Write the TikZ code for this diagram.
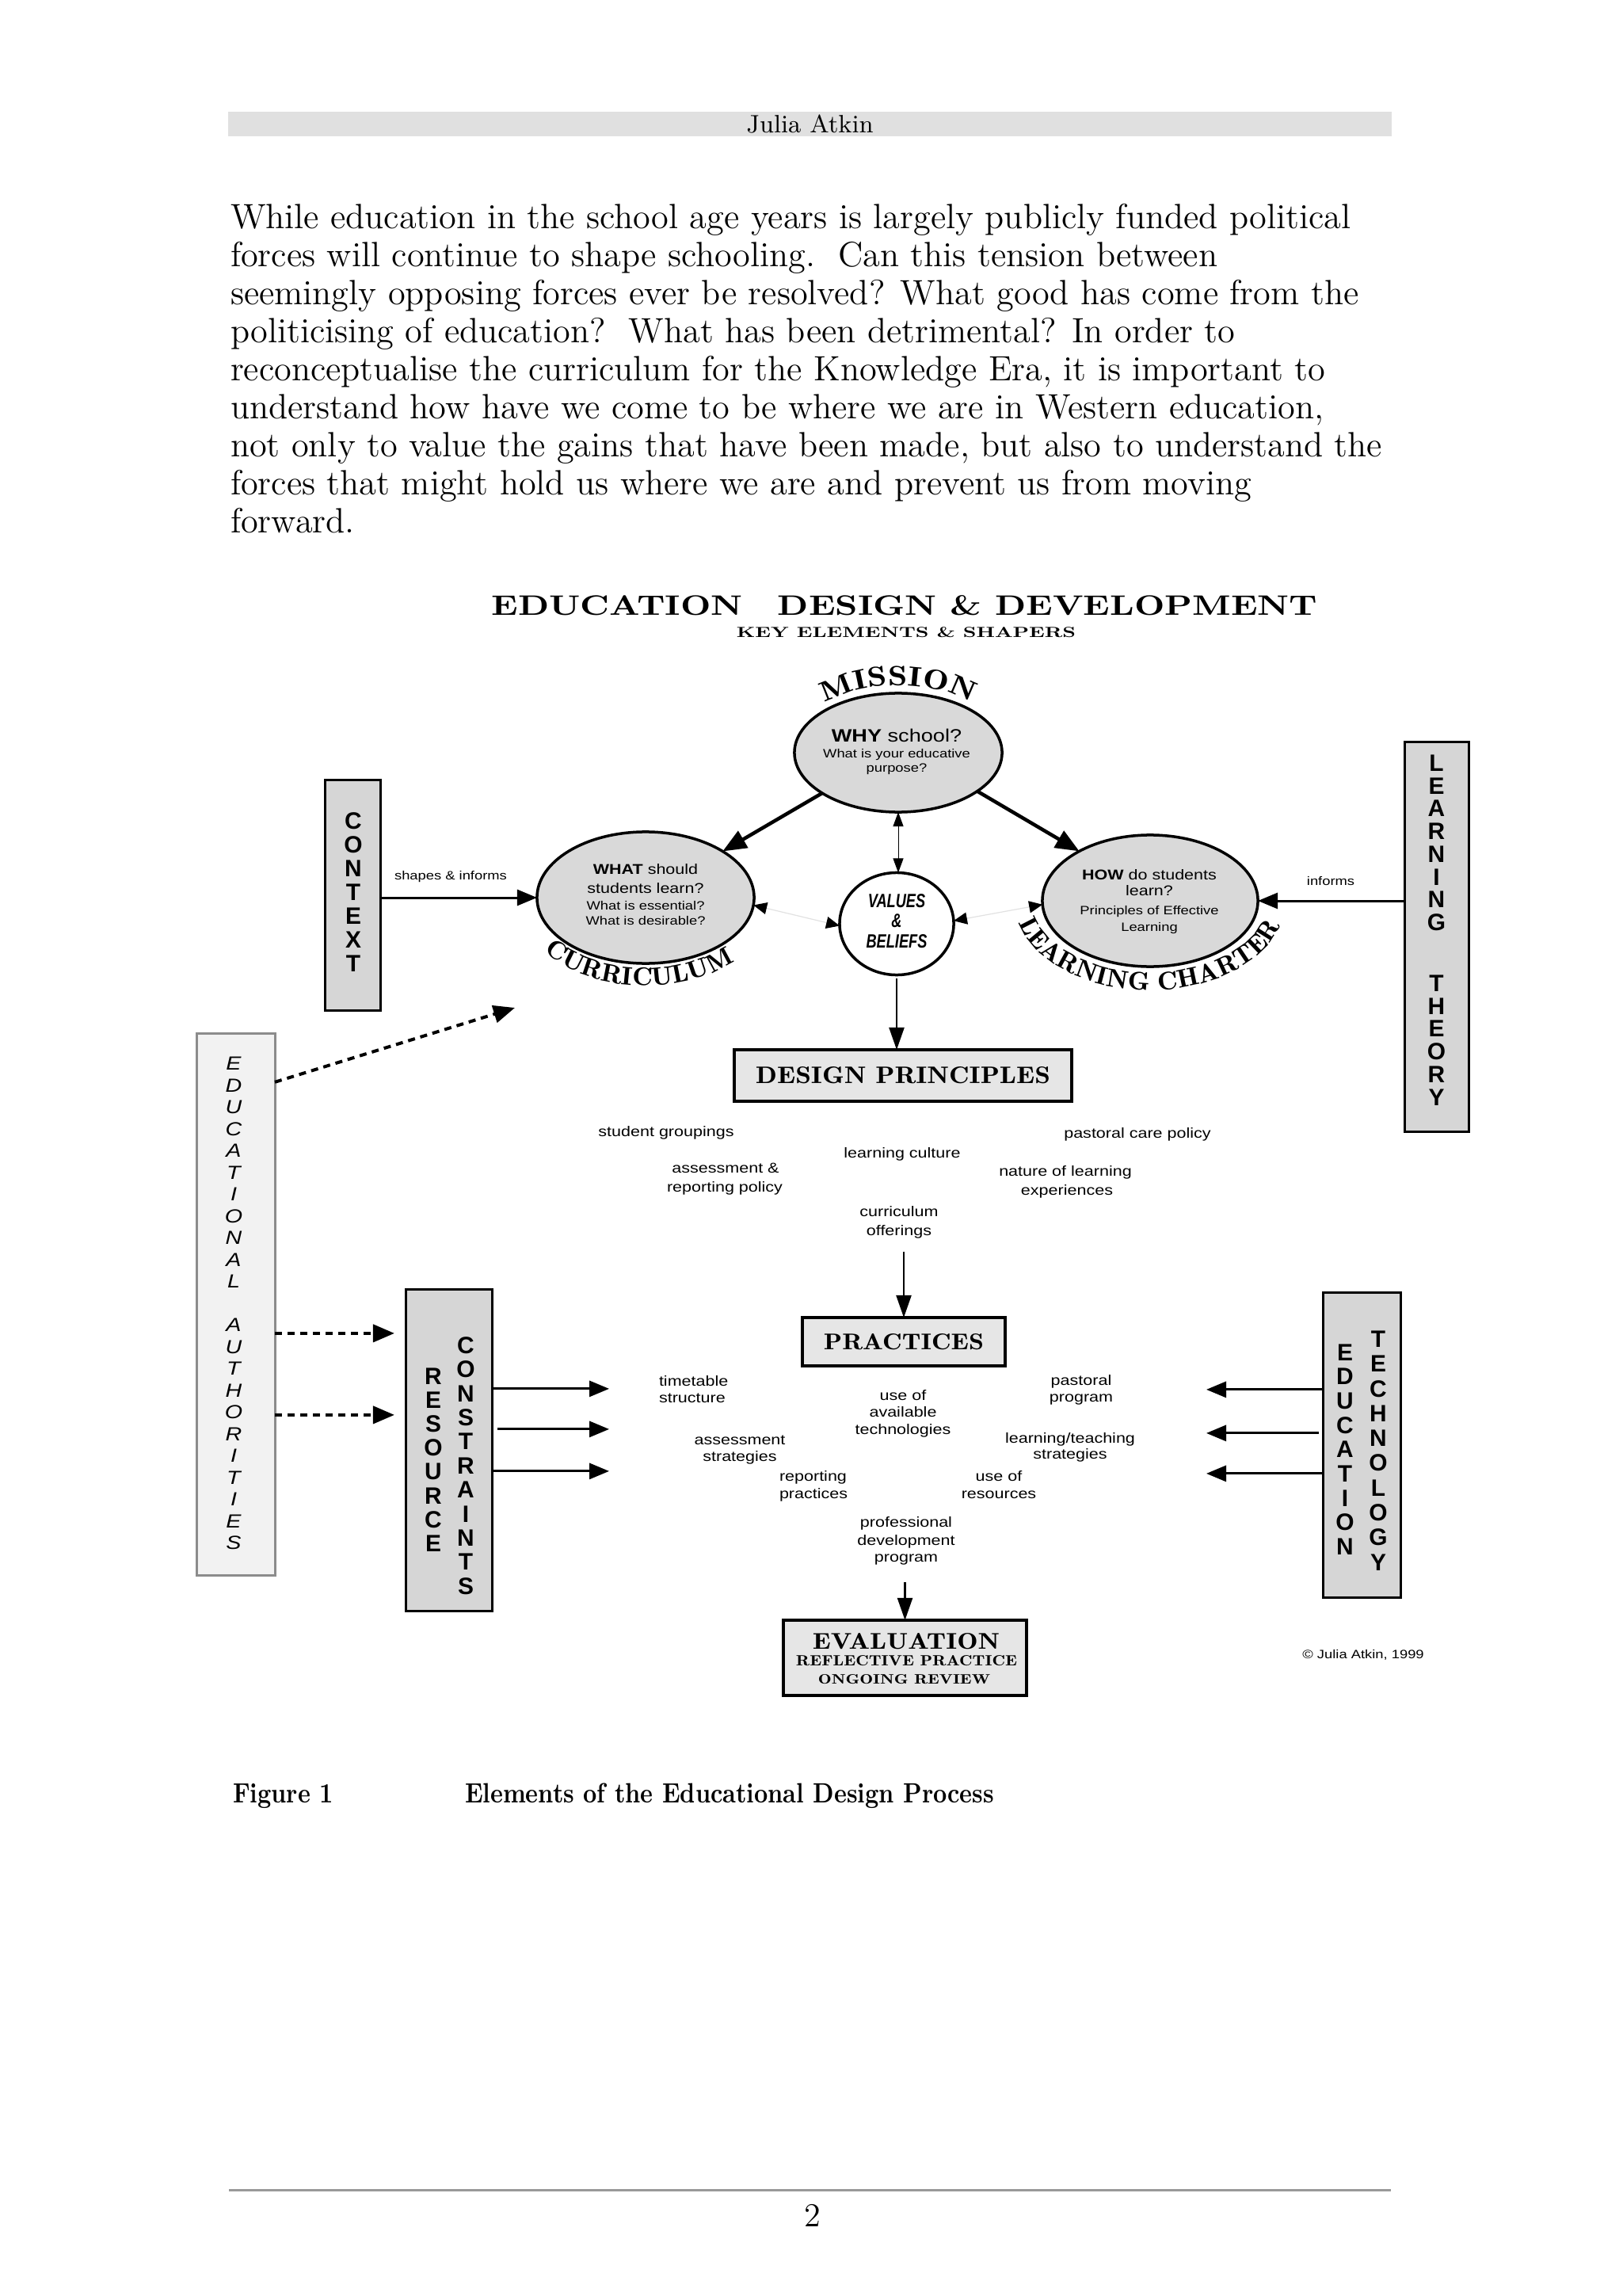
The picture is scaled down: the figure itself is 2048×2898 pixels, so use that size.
\documentclass[tikz,border=0pt]{standalone}
\usepackage{fontspec}
\usepackage{graphicx}
\usetikzlibrary{shapes.geometric,arrows.meta,calc,decorations.text}
\newfontfamily\dsans[FakeStretch=1.2]{Liberation Sans}
\newfontfamily\vsans{Liberation Sans}
\newfontfamily\valfont[FakeStretch=0.75]{Liberation Sans}
\newfontfamily\arcA[FakeStretch=1.25]{lmromandemi10-regular.otf}
\newfontfamily\arcB[FakeStretch=1.1]{lmromandemi10-regular.otf}
\newfontfamily\lmdemi{lmromandemi10-regular.otf}
\newfontfamily\capfont[FakeStretch=0.855]{lmroman10-bold.otf}
\newcommand\mArcA{\arcA\fontsize{10}{10}\selectfont}
\newcommand\mArcB{\arcB\fontsize{9.2}{9.2}\selectfont}
\definecolor{hdrgray}{HTML}{E0E0E0}
\definecolor{ellgray}{HTML}{D9D9D9}
\definecolor{boxgray}{HTML}{D6D6D6}
\definecolor{lightbox}{HTML}{E6E6E6}
\definecolor{eafill}{HTML}{F2F2F2}
\definecolor{eadraw}{HTML}{8C8C8C}
\definecolor{faint}{HTML}{E2E2E2}
\definecolor{rulegray}{HTML}{999999}
\begin{document}
\begin{tikzpicture}[x=0.01cm,y=-0.01cm,
  every node/.style={inner sep=0pt,outer sep=0pt},
  bodytxt/.style={anchor=base west,font=\rmfamily\fontsize{12.6}{14}\selectfont},
  lbl/.style={anchor=base,font=\dsans\fontsize{5.1}{6}\selectfont},
  lblw/.style={anchor=base west,font=\dsans\fontsize{5.1}{6}\selectfont},
  sml/.style={anchor=base,font=\dsans\fontsize{4.35}{5}\selectfont},
  valtxt/.style={anchor=base,font=\valfont\bfseries\itshape\fontsize{6.9}{8}\selectfont},
  vbox/.style={draw,line width=0.03cm,fill=boxgray},
  hbox/.style={draw,line width=0.04cm,fill=lightbox},
  eabox/.style={draw=eadraw,line width=0.03cm,fill=eafill},
  ell/.style={ellipse,draw,line width=0.035cm,fill=ellgray},
  vlet/.style={align=center,font=\vsans\bfseries\fontsize{8.5}{#1}\selectfont},
  bigarr/.style={line width=0.045cm,-{Triangle[length=0.3cm,width=0.24cm]}},
  medarr/.style={line width=0.03cm,-{Triangle[length=0.25cm,width=0.2cm]}},
  vertarr/.style={line width=0.022cm,-{Triangle[length=0.28cm,width=0.19cm]}},
  thinarr/.style={line width=0.01cm,{Triangle[length=0.18cm,width=0.13cm]}-{Triangle[length=0.18cm,width=0.13cm]}},
  faintarr/.style={draw=faint,line width=0.012cm,{Triangle[length=0.17cm,width=0.15cm,color=black]}-{Triangle[length=0.17cm,width=0.15cm,color=black]}},
  dotarr/.style={line width=0.04cm,dash pattern=on 0.09cm off 0.07cm,-{Triangle[length=0.27cm,width=0.22cm]}}
]
\useasboundingbox (0,0) rectangle (2048,2898);
\fill[white] (0,0) rectangle (2048,2898);

% header
\node[fill=hdrgray,minimum width=14.69cm,minimum height=0.31cm,font=\rmfamily\fontsize{9}{10}\selectfont] (hdr) at (1022.5,156.5) {Julia Atkin};

% body text
\node[bodytxt] (b1) at (291,289) {While education in the school age years is largely publicly funded political};
\node[bodytxt] (b2) at (291,337) {forces will continue to shape schooling.\ \ Can this tension between};
\node[bodytxt] (b3) at (291,385) {seemingly opposing forces ever be resolved? What good has come from the};
\node[bodytxt] (b4) at (291,433) {politicising of education?\ \ What has been detrimental? In order to};
\node[bodytxt] (b5) at (291,481) {reconceptualise the curriculum for the Knowledge Era, it is important to};
\node[bodytxt] (b6) at (291,529) {understand how have we come to be where we are in Western education,};
\node[bodytxt] (b7) at (291,577) {not only to value the gains that have been made, but also to understand the};
\node[bodytxt] (b8) at (291,625) {forces that might hold us where we are and prevent us from moving};
\node[bodytxt] (b9) at (291,673) {forward.};

% titles
\node[anchor=base] (ttl) at (1142,777) {\resizebox{10.42cm}{0.25cm}{\bfseries EDUCATION\quad DESIGN \& DEVELOPMENT}};
\node[anchor=base] (sub) at (1144,805) {\resizebox{4.28cm}{0.13cm}{\bfseries KEY ELEMENTS \& SHAPERS}};

% ellipses
\node[ell,minimum width=2.62cm,minimum height=1.5cm] (why) at (1134,950) {};
\node[ell,minimum width=2.74cm,minimum height=1.66cm] (what) at (815,1133) {};
\node[ell,minimum width=2.72cm,minimum height=1.66cm] (how) at (1452,1137) {};
\node[ell,fill=white,minimum width=1.44cm,minimum height=1.29cm] (val) at (1132,1166) {};

% ellipse texts
\node[anchor=base,font=\dsans\fontsize{6.43}{7}\selectfont] (why1) at (1132,936) {\textbf{WHY} school?};
\node[sml] (why2) at (1132,956) {What is your educative};
\node[sml] (why3) at (1132,975) {purpose?};
\node[lbl] (what1) at (815,1103) {\textbf{WHAT} should};
\node[lbl] (what2) at (815,1127) {students learn?};
\node[sml] (what3) at (815,1148) {What is essential?};
\node[sml] (what4) at (815,1167) {What is desirable?};
\node[lbl] (how1) at (1451,1110) {\textbf{HOW} do students};
\node[lbl] (how2) at (1451,1130) {learn?};
\node[sml] (how3) at (1451,1154) {Principles of Effective};
\node[sml] (how4) at (1451,1175) {Learning};
\node[valtxt] (v1) at (1132,1145) {VALUES};
\node[valtxt] (v2) at (1132,1170) {\&};
\node[valtxt] (v3) at (1132,1196) {BELIEFS};

% arc texts
\path[decorate,decoration={text along path,text align=center,text={|\mArcA|MISSION}}]
  plot[domain=-80:80,samples=81] ({1134+138*sin(\x)},{950-85*cos(\x)});
\path[decorate,decoration={text along path,text align=center,text={|\mArcB|CURRICULUM}}]
  plot[domain=-85:75,samples=81] ({815+161*sin(\x)},{1133+111*cos(\x)});
\path[decorate,decoration={text along path,text align=center,text={|\mArcB|LEARNING CHARTER}}]
  plot[domain=-100:98,samples=101] ({1452+171*sin(\x)},{1137+113*cos(\x)});

% side boxes
\node[vbox,minimum width=0.69cm,minimum height=2.9cm] (ctx) at (445.5,1130) {};
\node[vlet=8.54pt] (ctxl) at (446,1126) {C\\O\\N\\T\\E\\X\\T};
\node[vbox,minimum width=0.81cm,minimum height=4.91cm] (lt) at (1813.5,1182.5) {};
\node[vlet=8.17pt] (ltl) at (1813.5,1174) {L\\E\\A\\R\\N\\I\\N\\G\\[13.7pt]T\\H\\E\\O\\R\\Y};
\node[eabox,minimum width=0.98cm,minimum height=6.83cm] (ea) at (298,1646.5) {};
\node[align=center,font=\dsans\itshape\fontsize{6.8}{7.82}\selectfont] (eal) at (295,1645) {E\\D\\U\\C\\A\\T\\I\\O\\N\\A\\L\\[7.82pt]A\\U\\T\\H\\O\\R\\I\\T\\I\\E\\S};
\node[vbox,minimum width=1.08cm,minimum height=4.05cm] (rc) at (567,1830.5) {};
\node[vlet=8.57pt] (rcl1) at (547,1842.5) {R\\E\\S\\O\\U\\R\\C\\E};
\node[vlet=8.65pt] (rcl2) at (588,1850) {C\\O\\N\\S\\T\\R\\A\\I\\N\\T\\S};
\node[vbox,minimum width=0.98cm,minimum height=3.84cm] (et) at (1719,1824) {};
\node[vlet=8.71pt] (etl1) at (1698,1829.5) {E\\D\\U\\C\\A\\T\\I\\O\\N};
\node[vlet=8.9pt] (etl2) at (1740,1831) {T\\E\\C\\H\\N\\O\\L\\O\\G\\Y};

% labels
\node[sml] (shp) at (569,1110) {shapes \& informs};
\node[sml] (inf) at (1680,1117) {informs};

% design principles
\node[hbox,minimum width=4.26cm,minimum height=0.65cm] (dp) at (1140,1357.5) {\resizebox{3.72cm}{0.21cm}{\lmdemi DESIGN PRINCIPLES}};
\node[lbl] (dpa) at (841,1434) {student groupings};
\node[lbl] (dpb) at (1139,1461) {learning culture};
\node[lbl] (dpc) at (1436,1436) {pastoral care policy};
\node[lbl] (dpd1) at (916,1480) {assessment \&};
\node[lbl] (dpd2) at (915,1504) {reporting policy};
\node[lbl] (dpe1) at (1345,1484) {nature of learning};
\node[lbl] (dpe2) at (1347,1508) {experiences};
\node[lbl] (dpf1) at (1135,1535) {curriculum};
\node[lbl] (dpf2) at (1135,1559) {offerings};

% practices
\node[hbox,minimum width=2.56cm,minimum height=0.61cm] (prac) at (1141,1693.5) {\resizebox{2.02cm}{0.2cm}{\lmdemi PRACTICES}};
\node[lblw] (pa1) at (832,1749) {timetable};
\node[lblw] (pa2) at (832,1770) {structure};
\node[lbl] (pb1) at (1140,1767) {use of};
\node[lbl] (pb2) at (1140,1788) {available};
\node[lbl] (pb3) at (1140,1810) {technologies};
\node[lbl] (pc1) at (1365,1748) {pastoral};
\node[lbl] (pc2) at (1365,1769) {program};
\node[lbl] (pd1) at (934,1823) {assessment};
\node[lbl] (pd2) at (934,1844) {strategies};
\node[lbl] (pe1) at (1351,1821) {learning/teaching};
\node[lbl] (pe2) at (1351,1841) {strategies};
\node[lblw] (pf1) at (984,1869) {reporting};
\node[lblw] (pf2) at (984,1891) {practices};
\node[lbl] (pg1) at (1261,1869) {use of};
\node[lbl] (pg2) at (1261,1891) {resources};
\node[lbl] (ph1) at (1144,1927) {professional};
\node[lbl] (ph2) at (1144,1950) {development};
\node[lbl] (ph3) at (1144,1971) {program};

% evaluation
\node[hbox,minimum width=3.07cm,minimum height=0.95cm] (eval) at (1142.5,2092.5) {};
\node[anchor=base] (ev1) at (1144,2081) {\resizebox{2.36cm}{0.2cm}{\lmdemi EVALUATION}};
\node[anchor=base] (ev2) at (1144.5,2102) {\resizebox{2.79cm}{0.13cm}{\lmdemi REFLECTIVE PRACTICE}};
\node[anchor=base] (ev3) at (1141.5,2125) {\resizebox{2.17cm}{0.12cm}{\lmdemi ONGOING REVIEW}};
\node[sml] (copy) at (1721,2093) {© Julia Atkin, 1999};

% connectors
\draw[bigarr] (why.208) -- (what.31);
\draw[bigarr] (why.334) -- (how.145);
\draw[thinarr] (why.south) -- (why.south |- val.north);
\draw[faintarr] (what.-4) -- (val.182);
\draw[faintarr] (val.3) -- (how.182);
\draw[vertarr,shorten <=0.04cm] (val.south) -- (val.south |- dp.north);
\draw[medarr] (ctx.east |- what.west) -- (what.west);
\draw[medarr] (lt.west |- how.east) -- (how.east);
\draw[vertarr,shorten <=0.17cm] (dpf2.south -| prac.north) -- (prac.north);
\draw[vertarr,shorten <=0.22cm] (ph3.south -| eval.north) -- (eval.north);

\coordinate (eatip) at (650,1272);
\coordinate (eaout) at ($(ea.north east)+(0,61)$);
\draw[dotarr] (eaout) -- (eatip);
\coordinate (rcin1) at ($(rc.north west)+(0,55)$);
\coordinate (rcin2) at ($(rc.north west)+(0,158)$);
\draw[dotarr,shorten >=0.15cm] (ea.east |- rcin1) -- (rcin1);
\draw[dotarr,shorten >=0.15cm] (ea.east |- rcin2) -- (rcin2);

\coordinate (rco1) at ($(rc.north east)+(148,125)$);
\coordinate (rco2) at ($(rc.north east)+(148,176)$);
\coordinate (rco3) at ($(rc.north east)+(148,229)$);
\draw[medarr] (rc.east |- rco1) -- (rco1);
\draw[medarr,shorten <=0.07cm] (rc.east |- rco2) -- (rco2);
\draw[medarr] (rc.east |- rco3) -- (rco3);

\coordinate (eto1) at ($(et.north west)+(-147,122)$);
\coordinate (eto2) at ($(et.north west)+(-147,177)$);
\coordinate (eto3) at ($(et.north west)+(-147,228)$);
\draw[medarr] (et.west |- eto1) -- (eto1);
\draw[medarr,shorten <=0.05cm] (et.west |- eto2) -- (eto2);
\draw[medarr] (et.west |- eto3) -- (eto3);

% caption
\node[anchor=base west,font=\capfont\fontsize{10}{12}\selectfont] (fig) at (294,2275) {Figure 1};
\node[anchor=base west,font=\capfont\fontsize{10}{12}\selectfont] (figt) at (587,2275) {Elements of the Educational Design Process};

% footer
\draw[rulegray,line width=0.03cm] (289,2764) -- (1756,2764);
\node[anchor=base,font=\rmfamily\fontsize{12}{14}\selectfont] (pg) at (1026,2810) {2};
\end{tikzpicture}
\end{document}
